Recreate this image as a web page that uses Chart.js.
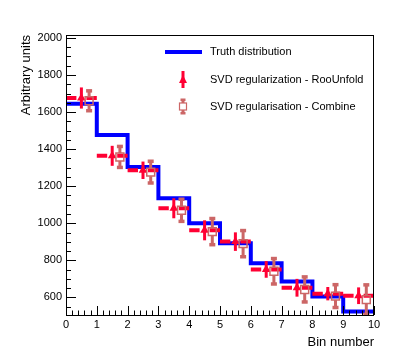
<!DOCTYPE html>
<html>
<head>
<meta charset="utf-8">
<script src="https://cdn.jsdelivr.net/npm/chart.js@4/dist/chart.umd.min.js"></script>
<style>
  html, body { margin: 0; padding: 0; background: #fff; }
  #c { display: block; }
</style>
</head>
<body>
<canvas id="c" width="416" height="352"></canvas>
<script>
// bins and values
const binEdges = [0, 1, 2, 3, 4, 5, 6, 7, 8, 9, 10];
const truthValues = [1645, 1476, 1303, 1135, 1000, 892, 784, 686, 605, 524];
const rooValues = [1676, 1364, 1286, 1081, 962, 901, 751, 652, 620, 609];
const rooErrors = [57, 54, 47, 54, 54, 50, 45, 48, 36, 45];
const combineValues = [1661, 1358, 1276, 1070, 955, 890, 741, 643, 607, 588];
const combineErrors = [55, 58, 60, 61, 72, 72, 70, 69, 63, 81];
const xTickLabels = [0, 1, 2, 3, 4, 5, 6, 7, 8, 9, 10];
const yTickLabels = [600, 800, 1000, 1200, 1400, 1600, 1800, 2000];

const BLUE = "#0000ff";
const RED = "#ff0033";
const COMB = "#cc6666";
const FONT = "'Liberation Sans', Arial, Helvetica, sans-serif";

const truthPoints = binEdges.map((x, i) => ({ x: x, y: truthValues[Math.min(i, truthValues.length - 1)] }));
const rooPoints = rooValues.map((v, i) => ({ x: (binEdges[i] + binEdges[i + 1]) / 2, y: v }));
const combPoints = combineValues.map((v, i) => ({ x: binEdges[i] + 0.75 * (binEdges[i + 1] - binEdges[i]), y: v }));

// error bars, drawn before each dataset's markers
const errorBars = {
    id: "errorBars",
    beforeDatasetDraw(chart, args) {
        const ds = chart.data.datasets[args.index];
        if (!ds.errY) return;
        const xs = chart.scales.x, ys = chart.scales.y, ctx = chart.ctx;
        const area = chart.chartArea;
        ctx.save();
        ctx.beginPath();
        ctx.rect(area.left, area.top, area.right - area.left, area.bottom - area.top);
        ctx.clip();
        ds.data.forEach((p, i) => {
            const px = xs.getPixelForValue(p.x);
            const py = ys.getPixelForValue(p.y);
            const top = ys.getPixelForValue(p.y + ds.errY[i]);
            const bot = ys.getPixelForValue(p.y - ds.errY[i]);
            ctx.strokeStyle = ds.borderColor;
            ctx.fillStyle = ds.borderColor;
            if (ds.errStyle === "roo") {
                const x0 = xs.getPixelForValue(binEdges[i]);
                const x1 = xs.getPixelForValue(binEdges[i + 1]);
                ctx.lineWidth = 4;
                ctx.beginPath();
                ctx.moveTo(x0, py);
                ctx.lineTo(px - 5, py);
                ctx.moveTo(px + 5, py);
                ctx.lineTo(x1, py);
                ctx.stroke();
                ctx.lineWidth = 3;
                ctx.beginPath();
                ctx.moveTo(px, top);
                ctx.lineTo(px, bot);
                ctx.stroke();
            } else {
                const half = 4;
                ctx.lineWidth = 3;
                ctx.beginPath();
                ctx.moveTo(px, top);
                ctx.lineTo(px, py - half);
                ctx.moveTo(px, py + half);
                ctx.lineTo(px, bot);
                ctx.stroke();
                ctx.fillRect(px - 3, top - 1.5, 6, 3.5);
                ctx.fillRect(px - 3, bot - 2, 6, 3.5);
            }
        });
        ctx.restore();
    }
};

// ROOT-like frame with ticks pointing inwards
const frameTicks = {
    id: "frameTicks",
    afterDatasetsDraw(chart) {
        const ctx = chart.ctx, a = chart.chartArea;
        const xs = chart.scales.x, ys = chart.scales.y;
        ctx.save();
        ctx.strokeStyle = "#000";
        ctx.lineWidth = 1;
        ctx.strokeRect(a.left + 0.5, a.top + 0.5, a.right - a.left - 1, a.bottom - a.top);
        ctx.beginPath();
        for (let v = 0; v <= 10.001; v += 0.2) {
            const x = Math.round(xs.getPixelForValue(v)) + 0.5;
            const major = Math.abs(v - Math.round(v)) < 1e-6;
            ctx.moveTo(x, a.bottom);
            ctx.lineTo(x, a.bottom - (major ? 9 : 4.5));
        }
        for (let v = 550; v <= ys.max; v += 50) {
            const y = Math.round(ys.getPixelForValue(v)) + 0.5;
            const major = v % 200 === 0;
            ctx.moveTo(a.left, y);
            ctx.lineTo(a.left + (major ? 10 : 5), y);
        }
        ctx.stroke();
        ctx.restore();
    }
};

// legend drawn in the upper part of the frame
const rootLegend = {
    id: "rootLegend",
    afterDraw(chart) {
        const ctx = chart.ctx;
        const ds = chart.data.datasets;
        const rows = [52, 80, 106.5];
        const mx = 183, tx = 210;
        ctx.save();
        ctx.font = "11px " + FONT;
        ctx.fillStyle = "#000";
        ctx.textBaseline = "middle";
        ctx.textAlign = "left";
        ds.forEach((d, i) => ctx.fillText(d.label, tx, rows[i]));

        ctx.strokeStyle = BLUE;
        ctx.lineWidth = 4;
        ctx.beginPath();
        ctx.moveTo(165, rows[0]);
        ctx.lineTo(202, rows[0]);
        ctx.stroke();

        ctx.strokeStyle = RED;
        ctx.fillStyle = RED;
        ctx.lineWidth = 3;
        ctx.beginPath();
        ctx.moveTo(mx, rows[1] - 9);
        ctx.lineTo(mx, rows[1] + 8);
        ctx.stroke();
        ctx.beginPath();
        ctx.moveTo(mx, rows[1] - 5);
        ctx.lineTo(mx + 4, rows[1] + 3);
        ctx.lineTo(mx - 4, rows[1] + 3);
        ctx.closePath();
        ctx.fill();

        ctx.strokeStyle = COMB;
        ctx.fillStyle = COMB;
        ctx.lineWidth = 3;
        ctx.beginPath();
        ctx.moveTo(mx, rows[2] - 7);
        ctx.lineTo(mx, rows[2] - 3.5);
        ctx.moveTo(mx, rows[2] + 3.5);
        ctx.lineTo(mx, rows[2] + 7);
        ctx.stroke();
        ctx.fillRect(mx - 2.5, rows[2] - 8, 5, 2.5);
        ctx.fillRect(mx - 2.5, rows[2] + 5.5, 5, 2.5);
        ctx.lineWidth = 1.2;
        ctx.strokeRect(mx - 3.5, rows[2] - 3.5, 7, 7);
        ctx.restore();
    }
};

new Chart(document.getElementById("c"), {
    type: "scatter",
    data: {
        datasets: [
            {
                type: "line",
                label: "Truth distribution",
                data: truthPoints,
                stepped: true,
                borderColor: BLUE,
                borderWidth: 4,
                borderJoinStyle: "miter",
                pointRadius: 0,
                fill: false,
                order: 3
            },
            {
                label: "SVD regularization - RooUnfold",
                data: rooPoints,
                errY: rooErrors,
                errStyle: "roo",
                pointStyle: "triangle",
                pointRadius: 5,
                backgroundColor: RED,
                borderColor: RED,
                borderWidth: 0,
                order: 2
            },
            {
                label: "SVD regularisation - Combine",
                data: combPoints,
                errY: combineErrors,
                errStyle: "combine",
                pointStyle: "rect",
                pointRadius: 5.6,
                backgroundColor: "rgba(255,255,255,0)",
                borderColor: COMB,
                borderWidth: 1.5,
                order: 1
            }
        ]
    },
    options: {
        responsive: false,
        animation: false,
        devicePixelRatio: 1,
        layout: { padding: { left: 0, top: 35, right: 42, bottom: 0 } },
        plugins: {
            legend: { display: false },
            tooltip: { enabled: false }
        },
        scales: {
            x: {
                type: "linear",
                min: 0,
                max: 10,
                afterBuildTicks: s => { s.ticks = xTickLabels.map(v => ({ value: v })); },
                afterFit: s => { s.height = 37; },
                ticks: { color: "#000", font: { family: FONT, size: 11 }, padding: 3, maxRotation: 0, autoSkip: false,
                         callback: v => String(v) },
                grid: { display: false, drawTicks: false },
                border: { display: false },
                title: {
                    display: true, text: "Bin number", align: "end", color: "#000",
                    font: { family: FONT, size: 13 }, padding: { top: 0, bottom: 2 }
                }
            },
            y: {
                type: "linear",
                min: 505,
                max: 2016,
                afterBuildTicks: s => { s.ticks = yTickLabels.map(v => ({ value: v })); },
                afterFit: s => { s.width = 66; },
                ticks: { color: "#000", font: { family: FONT, size: 11 }, padding: 4, callback: v => String(v) },
                grid: { display: false, drawTicks: false },
                border: { display: false },
                title: {
                    display: true, text: "Arbitrary units", align: "end", color: "#000",
                    font: { family: FONT, size: 13 }, padding: { top: 19, bottom: 0 }
                }
            }
        }
    },
    plugins: [errorBars, frameTicks, rootLegend]
});
</script>
</body>
</html>
